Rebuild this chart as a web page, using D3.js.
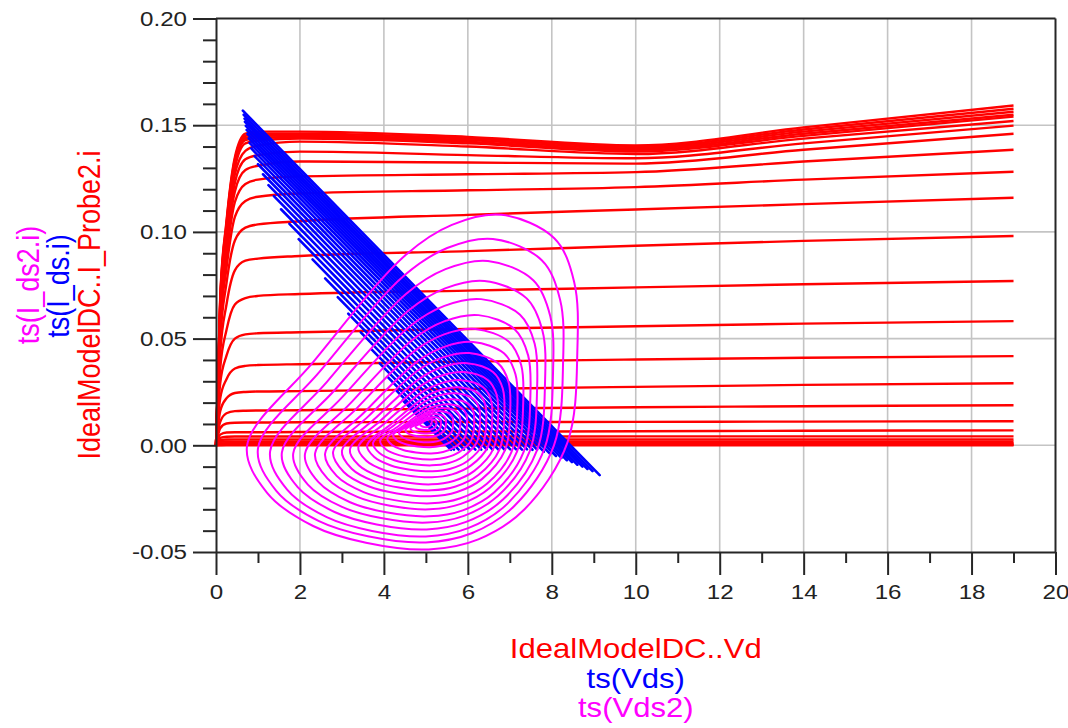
<!DOCTYPE html>
<html>
<head>
<meta charset="utf-8">
<script src="https://cdn.jsdelivr.net/npm/d3@7"></script>
<style>
  body { margin: 0; background: #fff; }
  svg { display: block; }
</style>
</head>
<body>
<div id="chart"></div>
<script>
// Axis ticks and labels
const xMajor = [0, 2, 4, 6, 8, 10, 12, 14, 16, 18, 20];
const xMinor = [1, 3, 5, 7, 9, 11, 13, 15, 17, 19];
const xTickLabels = ['0', '2', '4', '6', '8', '10', '12', '14', '16', '18', '20'];
const yMajor = [-0.05, 0.00, 0.05, 0.10, 0.15, 0.20];
const yMinor = [-0.04, -0.03, -0.02, -0.01, 0.01, 0.02, 0.03, 0.04, 0.06, 0.07, 0.08, 0.09,
                0.11, 0.12, 0.13, 0.14, 0.16, 0.17, 0.18, 0.19];
const yTickLabels = ['-0.05', '0.00', '0.05', '0.10', '0.15', '0.20'];

// Red: IdealModelDC..I_Probe2.i vs IdealModelDC..Vd (one row per gate step)
const redVd = [0, 0.1, 0.25, 0.45, 0.7, 1, 2, 6, 10, 14, 19];
const redCurves = [
    [0, .069, .105, .135, .146, .147, .147, .1445, .1405, .1490, .1592],
    [0, .068, .104, .134, .145, .146, .146, .1438, .1398, .1480, .1577],
    [0, .067, .103, .133, .144, .145, .1452, .1430, .1390, .1470, .1563],
    [0, .066, .102, .132, .143, .144, .1445, .1422, .1383, .1460, .1549],
    [0, .065, .100, .130, .1415, .1428, .1438, .1415, .1377, .1450, .1540],
    [0, .064, .098, .127, .138, .1405, .1423, .1400, .1365, .1437, .1520],
    [0, .062, .095, .123, .134, .136, .1376, .1360, .1345, .1415, .1498],
    [0, .060, .092, .119, .129, .131, .1330, .1325, .1320, .1385, .1460],
    [0, .057, .088, .114, .1225, .1245, .1260, .1270, .1280, .1330, .1385],
    [0, .054, .083, .107, .1145, .1165, .1180, .1195, .1210, .1245, .1282],
    [0, .049, .076, .096, .1020, .1035, .1050, .1080, .1105, .1130, .1160],
    [0, .043, .066, .082, .0865, .0875, .0887, .0910, .0935, .0958, .0981],
    [0, .036, .054, .066, .0690, .0700, .0709, .0725, .0740, .0755, .0770],
    [0, .029, .042, .050, .0520, .0525, .0530, .0545, .0558, .0570, .0582],
    [0, .022, .031, .036, .0372, .0376, .0380, .0392, .0402, .0410, .0418],
    [0, .016, .022, .0245, .0250, .0252, .0254, .0264, .0274, .0283, .0291],
    [0, .011, .015, .0160, .0162, .0163, .0164, .0172, .0178, .0183, .0188],
    [0, .008, .0102, .0106, .0107, .0107, .0108, .0109, .0110, .0111, .0113],
    [0, .005, .0060, .0061, .0061, .0061, .0062, .0064, .0066, .0068, .0070],
    [0, .0035, .0040, .0041, .0041, .0041, .0041, .0041, .0042, .0042, .0042],
    [0, .0024, .0027, .0028, .0028, .0028, .0028, .0028, .0028, .0028, .0028],
    [0, .0016, .0018, .0018, .0018, .0018, .0018, .0018, .0018, .0018, .0018],
    [0, .0009, .0010, .0010, .0010, .0010, .0010, .0010, .0010, .0010, .0010],
    [0, .0004, .0005, .0005, .0005, .0005, .0005, .0005, .0005, .0005, .0005],
    [0, .0001, .0002, .0002, .0002, .0002, .0002, .0002, .0002, .0002, .0002],
    [0, 0, 0, 0, 0, 0, 0, 0, 0, 0, 0]
];

// Blue: ts(I_ds.i) vs ts(Vds), one straight trace per drive level (start / end points)
const blueV1 = [0.64, 0.66, 0.68, 0.69, 0.71, 0.73, 0.75, 0.78, 0.80, 0.84, 0.92, 1.00, 1.12, 1.25,
                1.38, 1.55, 1.75, 1.97, 2.30, 2.60, 2.90, 3.15, 3.45, 3.70, 3.90, 4.10, 4.30, 4.45];
const blueI1 = [.1568, .1549, .1531, .1516, .1497, .1478, .1459, .1438, .1417, .1391, .1355, .1317, .1270, .1219,
                .1168, .1106, .1038, .0966, .0871, .0782, .0694, .0617, .0529, .0451, .0384, .0318, .0256, .0211];
const blueV2 = [9.14, 8.97, 8.85, 8.73, 8.61, 8.48, 8.36, 8.23, 8.10, 7.96, 7.81, 7.65, 7.54, 7.41,
                7.29, 7.15, 7.01, 6.88, 6.73, 6.59, 6.45, 6.32, 6.18, 6.05, 5.91, 5.78, 5.67, 5.60];
const blueI2 = [-.0140, -.0121, -.0111, -.0100, -.0091, -.0079, -.0070, -.0059, -.0050, -.0040, -.0030, -.0020, -.0021, -.0019,
                -.0020, -.0019, -.0019, -.0021, -.0020, -.0020, -.0019, -.0020, -.0020, -.0021, -.0020, -.0020, -.0020, -.0021];

// Magenta: ts(I_ds2.i) vs ts(Vds2), extents of each loop
const loopLeft = [0.74, 1.00, 1.29, 1.57, 1.84, 2.12, 2.36, 2.60, 2.79, 3.00, 3.19, 3.39, 3.60, 3.74, 3.91, 4.08, 4.22, 4.36, 4.51, 4.63, 4.75, 4.86];
const loopRight = [8.61, 8.27, 8.03, 7.84, 7.65, 7.49, 7.32, 7.18, 7.01, 6.87, 6.72, 6.58, 6.44, 6.29, 6.15, 5.98, 5.82, 5.65, 5.48, 5.36, 5.25, 5.14];
const loopTop = [0.108, 0.0967, 0.0864, 0.077, 0.0685, 0.061, 0.0545, 0.0484, 0.0432, 0.0385, 0.0343, 0.0305, 0.0272, 0.0244, 0.0216, 0.0192, 0.0174, 0.016, 0.0146, 0.0133, 0.0122, 0.0130];
const loopBottom = [-0.0488, -0.0455, -0.0427, -0.0394, -0.0362, -0.0333, -0.030, -0.0272, -0.0239, -0.0211, -0.0183, -0.015, -0.0122, -0.0094, -0.0066, -0.0038, -0.0009, 0.0014, 0.0038, 0.0055, 0.0072, 0.0085];

// Loop outline inside its box (u: left->right, v: bottom->top)
const loopShape = [
    [0, 0.31], [0.2, 0.56], [0.48, 0.88], [0.62, 0.97], [0.77, 1], [0.93, 0.93], [0.99, 0.8],
    [1, 0.6], [0.97, 0.32], [0.84, 0.12], [0.7, 0.03], [0.55, 0], [0.36, 0.02], [0.2, 0.07], [0.06, 0.17]
];

const width = 1068;
const height = 728;
const RED = '#ff0000', BLUE = '#0000ff', MAGENTA = '#ff00ff';
const axisColor = '#262626';
const gridColor = '#c4c4c4';
const font = "'Liberation Sans', Arial, sans-serif";

const svg = d3.select('#chart').append('svg')
    .attr('width', width)
    .attr('height', height)
    .style('background', '#fff');

// Scales
const xScale = d3.scaleLinear().domain([0, 20]).range([216, 1055.5]);
const yScale = d3.scaleLinear().domain([-0.05, 0.20]).range([552, 18.5]);

// Grid
svg.append('g').selectAll('line')
    .data(xMajor.slice(1, -1))
    .join('line')
    .attr('x1', d => xScale(d)).attr('x2', d => xScale(d))
    .attr('y1', yScale(0.20)).attr('y2', yScale(-0.05))
    .attr('stroke', gridColor).attr('stroke-width', 1.6);
svg.append('g').selectAll('line')
    .data(yMajor.slice(1, -1))
    .join('line')
    .attr('x1', xScale(0)).attr('x2', xScale(20))
    .attr('y1', d => yScale(d)).attr('y2', d => yScale(d))
    .attr('stroke', gridColor).attr('stroke-width', 1.6);

// Red family
const redLine = d3.line()
    .x((d, i) => xScale(redVd[i]))
    .y(d => yScale(d))
    .curve(d3.curveMonotoneX);
svg.append('g').selectAll('path')
    .data(redCurves)
    .join('path')
    .attr('d', redLine)
    .attr('fill', 'none')
    .attr('stroke', RED)
    .attr('stroke-width', 2.4);

// Blue traces
svg.append('g').selectAll('line')
    .data(blueV1.map((v, i) => i))
    .join('line')
    .attr('x1', i => xScale(blueV1[i]))
    .attr('y1', i => yScale(blueI1[i]))
    .attr('x2', i => xScale(blueV2[i]))
    .attr('y2', i => yScale(blueI2[i]))
    .attr('stroke', BLUE)
    .attr('stroke-width', 2.6)
    .attr('stroke-linecap', 'round');

// Magenta loops
const loopLine = d3.line().curve(d3.curveCatmullRomClosed.alpha(0.5));
svg.append('g').selectAll('path')
    .data(loopLeft.map((v, i) => i))
    .join('path')
    .attr('d', i => loopLine(loopShape.map(([u, v]) => [
        xScale(loopLeft[i] + u * (loopRight[i] - loopLeft[i])),
        yScale(loopBottom[i] + v * (loopTop[i] - loopBottom[i]))
    ])))
    .attr('fill', 'none')
    .attr('stroke', MAGENTA)
    .attr('stroke-width', 2);

// Axes
function styleAxis(g) {
    g.selectAll('path, line').attr('stroke', axisColor).attr('stroke-width', 2);
    g.selectAll('text').attr('fill', '#222').style('font-family', font).style('font-size', '21px');
}

const yAxisG = svg.append('g')
    .attr('transform', `translate(${xScale(0)},0)`)
    .call(d3.axisLeft(yScale).tickValues(yMajor).tickSize(23).tickSizeOuter(0)
        .tickFormat((d, i) => yTickLabels[i]))
    .call(styleAxis);
yAxisG.selectAll('text')
    .attr('x', 0)
    .attr('text-anchor', 'end')
    .attr('transform', 'translate(-29,0) scale(1.15,1)');

svg.append('g')
    .attr('transform', `translate(${xScale(0)},0)`)
    .call(d3.axisLeft(yScale).tickValues(yMinor).tickSize(13).tickFormat(''))
    .call(styleAxis)
    .select('.domain').remove();

const xAxisG = svg.append('g')
    .attr('transform', `translate(0,${yScale(-0.05)})`)
    .call(d3.axisBottom(xScale).tickValues(xMajor).tickSize(23).tickSizeOuter(0)
        .tickFormat((d, i) => xTickLabels[i]))
    .call(styleAxis);
xAxisG.selectAll('text')
    .attr('y', 0)
    .attr('dy', '0.35em')
    .attr('transform', 'translate(0,39.5) scale(1.15,1)');

svg.append('g')
    .attr('transform', `translate(0,${yScale(-0.05)})`)
    .call(d3.axisBottom(xScale).tickValues(xMinor).tickSize(11).tickFormat(''))
    .call(styleAxis)
    .select('.domain').remove();

// Frame top and right
svg.append('line')
    .attr('x1', xScale(0)).attr('x2', xScale(20))
    .attr('y1', yScale(0.20)).attr('y2', yScale(0.20))
    .attr('stroke', axisColor).attr('stroke-width', 2);
svg.append('line')
    .attr('x1', xScale(20)).attr('x2', xScale(20))
    .attr('y1', yScale(0.20)).attr('y2', yScale(-0.05))
    .attr('stroke', axisColor).attr('stroke-width', 2);

// Axis titles
const xTitles = [
    {text: 'IdealModelDC..Vd', color: RED, y: 658},
    {text: 'ts(Vds)', color: BLUE, y: 688},
    {text: 'ts(Vds2)', color: MAGENTA, y: 717}
];
svg.append('g').selectAll('text')
    .data(xTitles)
    .join('text')
    .attr('transform', d => `translate(${(xScale(0) + xScale(20)) / 2},${d.y}) scale(1.15,1)`)
    .attr('text-anchor', 'middle')
    .attr('fill', d => d.color)
    .style('font-family', font)
    .style('font-size', '27px')
    .text(d => d.text);

const yTitles = [
    {text: 'IdealModelDC..I_Probe2.i', color: RED, x: 100, y: 305},
    {text: 'ts(I_ds.i)', color: BLUE, x: 69, y: 286},
    {text: 'ts(I_ds2.i)', color: MAGENTA, x: 39, y: 285}
];
svg.append('g').selectAll('text')
    .data(yTitles)
    .join('text')
    .attr('transform', d => `translate(${d.x},${d.y}) scale(1.15,1) rotate(-90)`)
    .attr('text-anchor', 'middle')
    .attr('fill', d => d.color)
    .style('font-family', font)
    .style('font-size', '27px')
    .text(d => d.text);
</script>
</body>
</html>
